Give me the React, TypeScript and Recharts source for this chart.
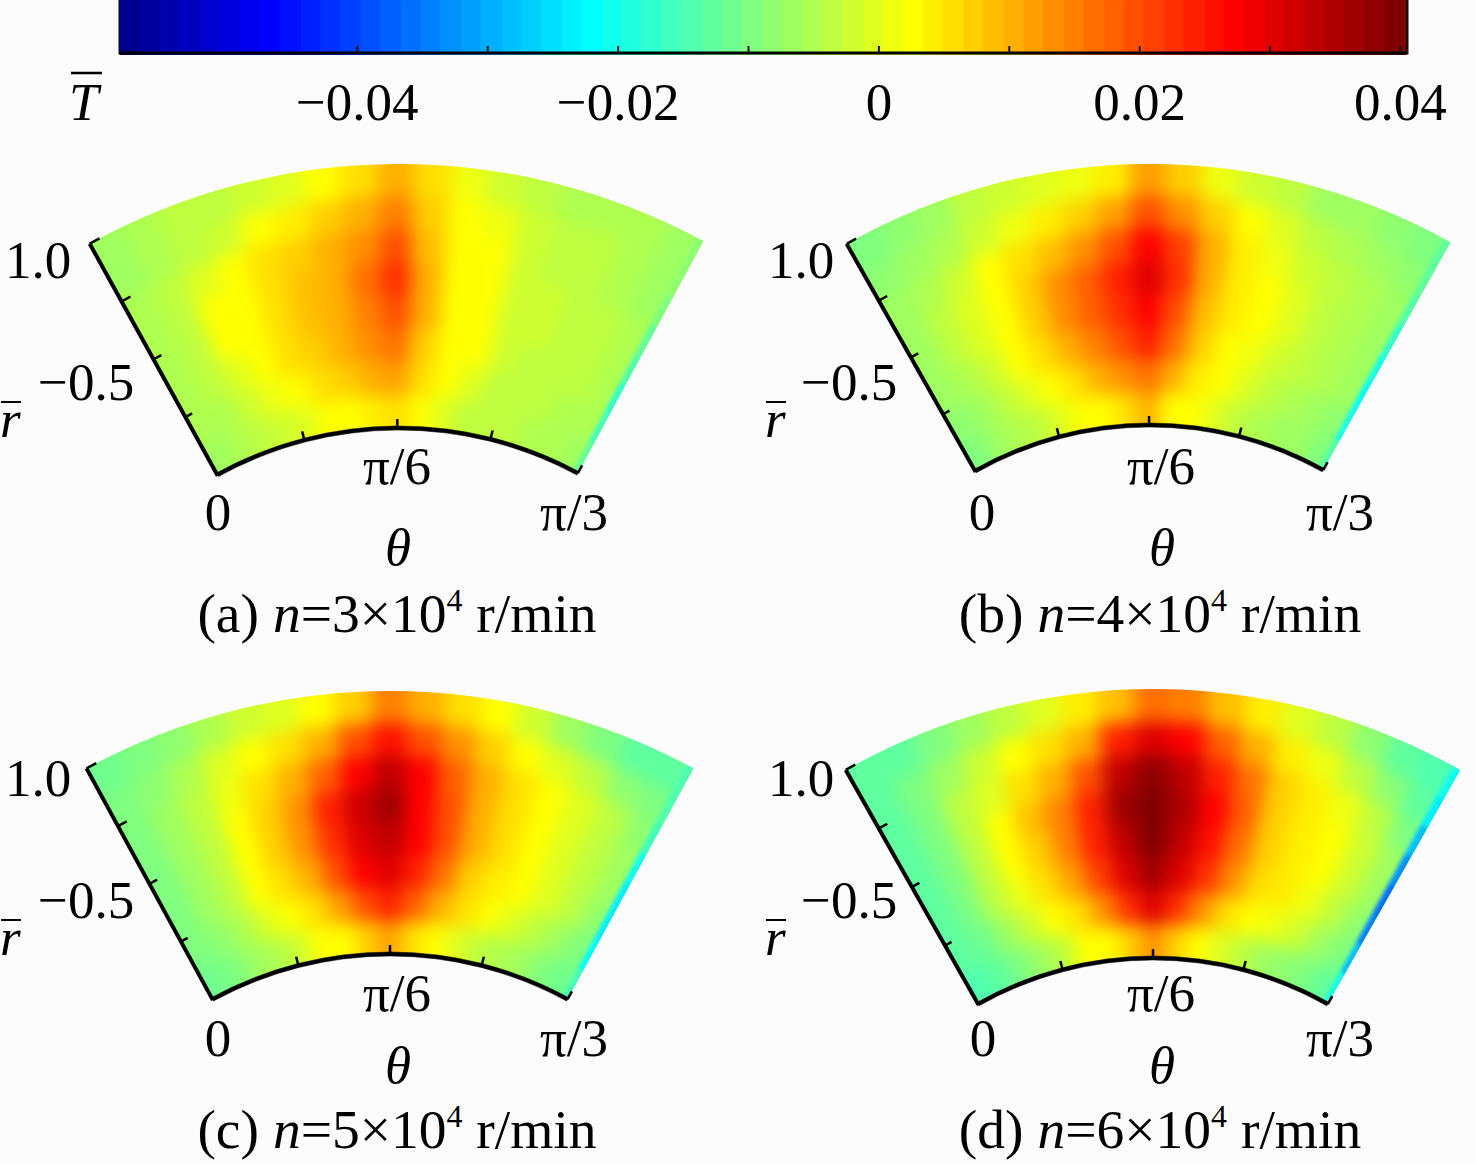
import React from "react";
import {
  Bar,
  BarChart,
  Cell,
  Pie,
  PieChart,
  ReferenceArea,
  XAxis,
  YAxis,
} from "recharts";

const WIDTH = 1476;
const HEIGHT = 1164;
const SERIF = "'Liberation Serif', 'Times New Roman', serif";

// colour bar, values in units of 1e-3
const COLORBAR_COLORS = [
  "#00008f", "#00009f", "#0000af", "#0000bf", "#0000cf", "#0000df", "#0000ef", "#0000ff",
  "#0010ff", "#0020ff", "#0030ff", "#0040ff", "#0050ff", "#0060ff", "#0070ff", "#0080ff",
  "#0090ff", "#00a0ff", "#00afff", "#00bfff", "#00cfff", "#00dfff", "#00efff", "#00ffff",
  "#10ffef", "#20ffdf", "#30ffcf", "#40ffbf", "#50ffaf", "#60ff9f", "#70ff8f", "#80ff80",
  "#8fff70", "#9fff60", "#afff50", "#bfff40", "#cfff30", "#dfff20", "#efff10", "#ffff00",
  "#ffef00", "#ffdf00", "#ffcf00", "#ffbf00", "#ffaf00", "#ff9f00", "#ff8f00", "#ff8000",
  "#ff7000", "#ff6000", "#ff5000", "#ff4000", "#ff3000", "#ff2000", "#ff1000", "#ff0000",
  "#ef0000", "#df0000", "#cf0000", "#bf0000", "#af0000", "#9f0000", "#8f0000", "#800000",
];
const COLORBAR_LEVELS = [
  -57.4, -55.9, -54.3, -52.8, -51.2, -49.7, -48.2, -46.6,
  -45.1, -43.5, -42.0, -40.5, -38.9, -37.4, -35.8, -34.3,
  -32.8, -31.2, -29.7, -28.1, -26.6, -25.1, -23.5, -22.0,
  -20.4, -18.9, -17.4, -15.8, -14.3, -12.7, -11.2, -9.7,
  -8.1, -6.6, -5.0, -3.5, -2.0, -0.4, 1.1, 2.7,
  4.2, 5.7, 7.3, 8.8, 10.4, 11.9, 13.4, 15.0,
  16.5, 18.1, 19.6, 21.1, 22.7, 24.2, 25.8, 27.3,
  28.8, 30.4, 31.9, 33.5, 35.0, 36.5, 38.1, 39.6,
];
const COLORBAR_TICKS = [-40, -30, -20, -10, 0, 10, 20, 30, 40];
const COLORBAR_LABELS: Record<number, string> = {
  [-40]: "\u22120.04",
  [-20]: "\u22120.02",
  0: "0",
  20: "0.02",
  40: "0.04",
};

// temperature fields, rows run from the outer radius to the inner, columns from theta=0 to pi/3
const FIELD_A = [
  [-6, -5, -4, -3, -2, 0, 3, 6, 10, 5, 1, -2, -4, -5, -5, -5, -6],
  [-6, -5, -4, -2, 2, 4, 7, 11, 15, 8, 3, 1, -2, -4, -4, -5, -6],
  [-5, -4, 0, 3, 6, 8, 10, 14, 19, 9, 3, 2, -2, -3, -4, -5, -6],
  [-5, -3, 2, 3, 6, 9, 11, 16, 22, 10, 3, 2, -2, -2, -3, -4, -5],
  [-5, -3, 2, 3, 6, 9, 11, 15, 20, 10, 3, 2, -2, -2, -3, -4, -5],
  [-5, -4, 0, 3, 6, 8, 10, 14, 17, 8, 3, 2, -2, -3, -3, -4, -5],
  [-5, -5, -2, 1, 3, 5, 7, 10, 12, 5, 3, 0, -3, -3, -4, -5, -5],
  [-6, -5, -4, -2, 0, 3, 3, 4, 6, 3, 0, -3, -4, -4, -5, -5, -6],
];
const FIELD_B = [
  [-9, -8, -6, -4, -2, -1, 1, 4, 12, 8, 1, -2, -4, -6, -7, -8, -9],
  [-8, -7, -5, -2, 1, 4, 7, 12, 20, 14, 7, 3, -1, -3, -5, -6, -8],
  [-7, -5, -2, 2, 5, 9, 13, 19, 27, 21, 10, 4, 1, -2, -4, -5, -7],
  [-7, -4, -1, 3, 7, 13, 18, 24, 30, 22, 10, 4, 2, -1, -3, -5, -7],
  [-7, -4, -1, 3, 7, 13, 18, 23, 28, 20, 9, 4, 2, -1, -3, -5, -7],
  [-7, -5, -2, 2, 5, 10, 15, 20, 24, 16, 8, 3, 1, -2, -4, -5, -7],
  [-8, -6, -3, 0, 3, 5, 10, 14, 17, 10, 4, 2, -1, -3, -5, -6, -8],
  [-9, -7, -5, -3, 0, 3, 3, 6, 10, 3, 2, -1, -4, -5, -6, -7, -9],
];
const FIELD_C = [
  [-11, -10, -8, -5, -2, 0, 3, 8, 15, 11, 6, 2, -2, -7, -10, -12, -13],
  [-10, -8, -5, -1, 2, 5, 10, 20, 26, 20, 13, 7, 3, 0, -4, -8, -10],
  [-9, -7, -3, 1, 5, 10, 18, 28, 33, 27, 18, 10, 5, 3, 0, -4, -8],
  [-9, -7, -3, 3, 8, 14, 24, 32, 36, 28, 20, 11, 5, 3, 0, -3, -7],
  [-9, -7, -3, 3, 8, 14, 23, 30, 33, 27, 19, 10, 5, 3, 0, -3, -7],
  [-9, -7, -4, 2, 6, 11, 19, 27, 31, 25, 16, 8, 4, 2, -1, -4, -8],
  [-10, -8, -5, -1, 3, 6, 12, 20, 25, 18, 10, 5, 3, 0, -3, -6, -9],
  [-11, -9, -7, -5, -2, 2, 3, 7, 12, 5, 2, 0, -3, -5, -7, -9, -11],
];
const FIELD_D = [
  [-13, -12, -10, -7, -4, 0, 4, 9, 17, 15, 9, 4, 0, -4, -8, -12, -14],
  [-12, -10, -7, -2, 2, 5, 11, 24, 30, 27, 18, 10, 4, 1, -3, -8, -12],
  [-12, -9, -4, 0, 6, 11, 20, 33, 38, 34, 25, 16, 8, 4, 1, -4, -9],
  [-13, -9, -3, 2, 9, 15, 25, 36, 39, 35, 27, 18, 8, 4, 3, -2, -7],
  [-13, -9, -3, 2, 8, 15, 25, 34, 39, 34, 26, 17, 8, 4, 3, -2, -7],
  [-13, -10, -4, 1, 6, 12, 21, 30, 36, 30, 22, 13, 6, 4, 1, -3, -8],
  [-13, -11, -6, -2, 3, 6, 14, 23, 30, 22, 13, 6, 3, 1, -2, -6, -10],
  [-14, -12, -9, -6, -3, 2, 3, 7, 13, 7, 3, -1, -4, -6, -8, -10, -12],
];

// thin strip along the theta=pi/3 edge, outer to inner
const EDGE_A = [-8, -8, -10, -12, -14, -17, -16, -12];
const EDGE_B = [-12, -12, -14, -18, -20, -22, -20, -14];
const EDGE_C = [-14, -14, -16, -20, -24, -24, -22, -16];
const EDGE_D = [-20, -24, -28, -32, -36, -34, -28, -20];

const PANELS = [
  {
    id: "a", field: FIELD_A, edge: EDGE_A, speed: "3",
    cx: 399, cy: 804, rIn: 376, rOut: 640, a0: 118.9, a1: 61.6,
    one: [5, 278], half: [38, 400], r: [0, 437], sixth: [397, 484], zero: [218, 530], third: [574, 530], theta: [398, 565], caption: [397, 632],
  },
  {
    id: "b", field: FIELD_B, edge: EDGE_B, speed: "4",
    cx: 1150, cy: 780, rIn: 355, rOut: 616, a0: 119.5, a1: 60.8,
    one: [768, 278], half: [801, 400], r: [765, 437], sixth: [1161, 484], zero: [982, 530], third: [1340, 530], theta: [1162, 565], caption: [1160, 632],
  },
  {
    id: "c", field: FIELD_C, edge: EDGE_C, speed: "5",
    cx: 390, cy: 1325, rIn: 371, rOut: 634, a0: 118.6, a1: 61.4,
    one: [5, 796], half: [38, 918], r: [0, 955], sixth: [397, 1011], zero: [218, 1056], third: [574, 1056], theta: [398, 1083], caption: [397, 1148],
  },
  {
    id: "d", field: FIELD_D, edge: EDGE_D, speed: "6",
    cx: 1153, cy: 1313, rIn: 355, rOut: 624, a0: 119.5, a1: 60.5,
    one: [768, 796], half: [801, 918], r: [765, 955], sixth: [1161, 1011], zero: [983, 1056], third: [1340, 1056], theta: [1162, 1083], caption: [1160, 1148],
  },
];

const AXIS_STEPS = [0, 0.25, 0.5, 0.75, 1];
const NO_MARGIN = { top: 0, right: 0, bottom: 0, left: 0 };

const colorOf = (t: number) => {
  let best = 0;
  COLORBAR_LEVELS.forEach((level, i) => {
    if (Math.abs(level - t) < Math.abs(COLORBAR_LEVELS[best] - t)) best = i;
  });
  return COLORBAR_COLORS[best];
};

const polar = (cx: number, cy: number, r: number, deg: number): [number, number] => {
  const a = (deg * Math.PI) / 180;
  return [cx + r * Math.cos(a), cy - r * Math.sin(a)];
};

const sectorPath = (p: (typeof PANELS)[number]) => {
  const [x1, y1] = polar(p.cx, p.cy, p.rOut, p.a0);
  const [x2, y2] = polar(p.cx, p.cy, p.rOut, p.a1);
  const [x3, y3] = polar(p.cx, p.cy, p.rIn, p.a1);
  const [x4, y4] = polar(p.cx, p.cy, p.rIn, p.a0);
  return `M${x1} ${y1} A${p.rOut} ${p.rOut} 0 0 1 ${x2} ${y2} L${x3} ${y3} A${p.rIn} ${p.rIn} 0 0 0 ${x4} ${y4} Z`;
};

const ColorBar = () => {
  const data = COLORBAR_LEVELS.map((level) => ({ level, v: 1 }));
  return (
    <div style={{ position: "absolute", left: 0, top: 0 }}>
      <BarChart
        width={WIDTH}
        height={140}
        data={data}
        margin={{ top: 0, right: 69, bottom: 0, left: 120 }}
      >
        <XAxis
          dataKey="level"
          type="number"
          scale="linear"
          domain={[-58.2, 40.5]}
          ticks={COLORBAR_TICKS}
          interval={0}
          height={87}
          tickSize={-7}
          axisLine={{ stroke: "#000", strokeWidth: 3 }}
          tickLine={{ stroke: "#111", strokeWidth: 2 }}
          tick={(t: any) => (
            <text
              x={t.x}
              y={120}
              textAnchor="middle"
              fontFamily={SERIF}
              fontSize={53}
              fill="#000"
            >
              {COLORBAR_LABELS[t.payload.value] ?? ""}
            </text>
          )}
        />
        <YAxis hide domain={[0, 1]} />
        <Bar dataKey="v" barSize={24} isAnimationActive={false}>
          {data.map((d, i) => (
            <Cell key={d.level} fill={COLORBAR_COLORS[i]} stroke={COLORBAR_COLORS[i]} strokeWidth={4} />
          ))}
        </Bar>
        <ReferenceArea
          x1={-58.2}
          x2={40.5}
          y1={0}
          y2={1}
          fill="none"
          stroke="#1a0a00"
          strokeWidth={3}
        />
      </BarChart>
    </div>
  );
};

const Heat = ({ p }: { p: (typeof PANELS)[number] }) => {
  const rows = p.field.length;
  const cols = p.field[0].length;
  const dr = (p.rOut - p.rIn) / rows;
  const cw = (p.a0 - p.a1) / cols;
  return (
    <div style={{ position: "absolute", inset: 0, clipPath: `path("${sectorPath(p)}")` }}>
      <div style={{ filter: "blur(9px)" }}>
        <PieChart width={WIDTH} height={HEIGHT} margin={NO_MARGIN}>
          {p.field.map((row, i) => {
            // edge cells are repeated past the clip so the blur does not fade at the border
            const data = [
              { key: "pad0", value: 2, t: row[0] },
              ...row.map((t, j) => ({ key: `c${j}`, value: 1, t })),
              { key: "pad1", value: 2, t: row[cols - 1] },
            ];
            return (
              <Pie
                key={i}
                data={data}
                dataKey="value"
                nameKey="key"
                cx={p.cx}
                cy={p.cy}
                innerRadius={p.rOut - dr * (i + 1) - (i === rows - 1 ? 30 : 0)}
                outerRadius={p.rOut - dr * i + (i === 0 ? 30 : 0)}
                startAngle={p.a0 + 2 * cw}
                endAngle={p.a1 - 2 * cw}
                paddingAngle={0}
                isAnimationActive={false}
                legendType="none"
                label={false}
                labelLine={false}
              >
                {data.map((d) => (
                  <Cell key={d.key} fill={colorOf(d.t)} stroke={colorOf(d.t)} strokeWidth={1} />
                ))}
              </Pie>
            );
          })}
        </PieChart>
      </div>
      <div style={{ position: "absolute", inset: 0, filter: "blur(2px)" }}>
        <PieChart width={WIDTH} height={HEIGHT} margin={NO_MARGIN}>
          {p.edge.map((t, i) => (
            <Pie
              key={i}
              data={[{ key: "e", value: 1 }]}
              dataKey="value"
              cx={p.cx}
              cy={p.cy}
              innerRadius={p.rOut - dr * (i + 1)}
              outerRadius={p.rOut - dr * i}
              startAngle={p.a1 + 0.7}
              endAngle={p.a1 - 1}
              isAnimationActive={false}
              legendType="none"
              label={false}
              labelLine={false}
            >
              <Cell fill={colorOf(t)} stroke={colorOf(t)} strokeWidth={1} />
            </Pie>
          ))}
        </PieChart>
      </div>
    </div>
  );
};

const AxesAndLabels = ({ p }: { p: (typeof PANELS)[number] }) => {
  const txt = { fontFamily: SERIF, fontSize: 53, fill: "#000" };
  const [ex0, ey0] = polar(p.cx, p.cy, p.rIn - 1, p.a0);
  const [ex1, ey1] = polar(p.cx, p.cy, p.rOut, p.a0);
  return (
    <div style={{ position: "absolute", inset: 0 }}>
      <PieChart width={WIDTH} height={HEIGHT} margin={NO_MARGIN}>
        <Pie
          data={[{ key: "arc", value: 1 }]}
          dataKey="value"
          cx={p.cx}
          cy={p.cy}
          innerRadius={p.rIn - 2}
          outerRadius={p.rIn + 2}
          startAngle={p.a0}
          endAngle={p.a1}
          isAnimationActive={false}
          legendType="none"
          label={false}
          labelLine={false}
        >
          <Cell fill="#000" stroke="#000" strokeWidth={0.5} />
        </Pie>
        <line x1={ex0} y1={ey0} x2={ex1} y2={ey1} stroke="#000" strokeWidth={4} />
        {AXIS_STEPS.map((s) => {
          const deg = p.a0 + (p.a1 - p.a0) * s;
          const [x0, y0] = polar(p.cx, p.cy, p.rIn, deg);
          const [x1, y1] = polar(p.cx, p.cy, p.rIn + 9, deg);
          return <line key={`t${s}`} x1={x0} y1={y0} x2={x1} y2={y1} stroke="#000" strokeWidth={2.5} />;
        })}
        {AXIS_STEPS.map((s) => {
          const r = p.rIn + (p.rOut - p.rIn) * s;
          const [x0, y0] = polar(p.cx, p.cy, r, p.a0);
          const [x1, y1] = polar(p.cx, p.cy, r, p.a0 - 1);
          return <line key={`r${s}`} x1={x0} y1={y0} x2={x1} y2={y1} stroke="#000" strokeWidth={2.5} />;
        })}
        <text x={p.one[0]} y={p.one[1]} {...txt}>1.0</text>
        <text x={p.half[0]} y={p.half[1]} {...txt}>{"\u22120.5"}</text>
        <text x={p.r[0]} y={p.r[1]} {...txt} fontStyle="italic">r</text>
        <line x1={p.r[0] + 1} y1={p.r[1] - 35} x2={p.r[0] + 21} y2={p.r[1] - 35} stroke="#000" strokeWidth={2} />
        <text x={p.sixth[0]} y={p.sixth[1]} {...txt} textAnchor="middle">{"\u03c0/6"}</text>
        <text x={p.zero[0]} y={p.zero[1]} {...txt} textAnchor="middle">0</text>
        <text x={p.third[0]} y={p.third[1]} {...txt} textAnchor="middle">{"\u03c0/3"}</text>
        <text x={p.theta[0]} y={p.theta[1]} {...txt} textAnchor="middle" fontStyle="italic">{"\u03b8"}</text>
        <text x={p.caption[0]} y={p.caption[1]} {...txt} fontSize={55.5} textAnchor="middle">
          {`(${p.id}) `}
          <tspan fontStyle="italic">n</tspan>
          {`=${p.speed}\u00d710`}
          <tspan dy={-21} fontSize={32}>4</tspan>
          <tspan dy={21}>{" r/min"}</tspan>
        </text>
      </PieChart>
    </div>
  );
};

export default function App() {
  return (
    <div
      style={{
        position: "absolute",
        left: 0,
        top: 0,
        width: WIDTH,
        height: HEIGHT,
        overflow: "hidden",
        background: "#fcfcfc",
      }}
    >
      <ColorBar />
      <svg width={WIDTH} height={140} style={{ position: "absolute", left: 0, top: 0 }}>
        <text x={69} y={120} fontFamily={SERIF} fontSize={53} fontStyle="italic" fill="#000">T</text>
        <line x1={71} y1={73} x2={102} y2={73} stroke="#000" strokeWidth={2.5} />
      </svg>
      {PANELS.map((p) => (
        <React.Fragment key={p.id}>
          <Heat p={p} />
          <AxesAndLabels p={p} />
        </React.Fragment>
      ))}
    </div>
  );
}
